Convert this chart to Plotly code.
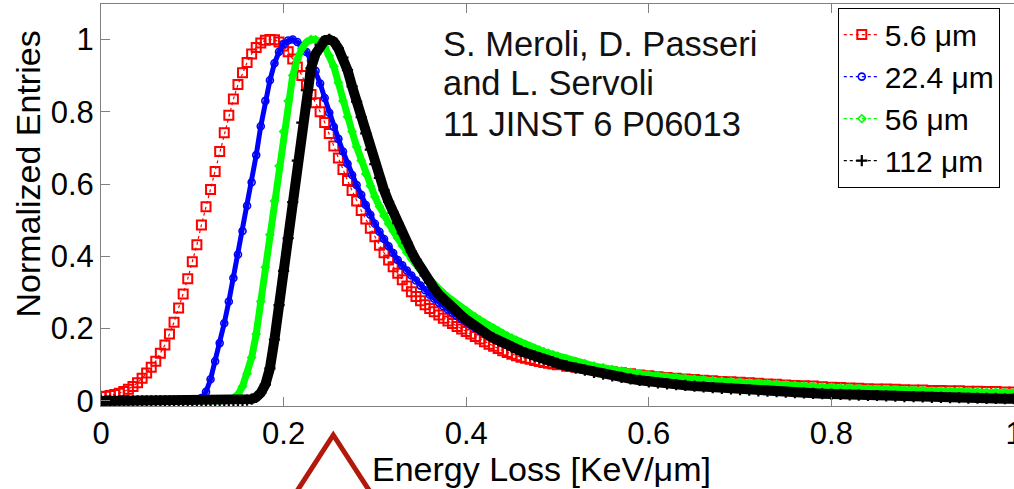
import plotly.graph_objects as go

# Energy loss grid [KeV/um]: fine sampling up to 0.5, coarser in the tail
X_FINE = [0.000, 0.005, 0.010, 0.015, 0.020, 0.025, 0.030, 0.035, 0.040, 0.045,
          0.050, 0.055, 0.060, 0.065, 0.070, 0.075, 0.080, 0.085, 0.090, 0.095,
          0.100, 0.105, 0.110, 0.115, 0.120, 0.125, 0.130, 0.135, 0.140, 0.145,
          0.150, 0.155, 0.160, 0.165, 0.170, 0.175, 0.180, 0.185, 0.190, 0.195,
          0.200, 0.205, 0.210, 0.215, 0.220, 0.225, 0.230, 0.235, 0.240, 0.245,
          0.250, 0.255, 0.260, 0.265, 0.270, 0.275, 0.280, 0.285, 0.290, 0.295,
          0.300, 0.305, 0.310, 0.315, 0.320, 0.325, 0.330, 0.335, 0.340, 0.345,
          0.350, 0.355, 0.360, 0.365, 0.370, 0.375, 0.380, 0.385, 0.390, 0.395,
          0.400, 0.405, 0.410, 0.415, 0.420, 0.425, 0.430, 0.435, 0.440, 0.445,
          0.450, 0.455, 0.460, 0.465, 0.470, 0.475, 0.480, 0.485, 0.490, 0.495,
          0.500]
X_TAIL = [0.51, 0.52, 0.53, 0.54, 0.55, 0.56, 0.57, 0.58, 0.59, 0.60,
          0.61, 0.62, 0.63, 0.64, 0.65, 0.66, 0.67, 0.68, 0.69, 0.70,
          0.71, 0.72, 0.73, 0.74, 0.75, 0.76, 0.77, 0.78, 0.79, 0.80,
          0.81, 0.82, 0.83, 0.84, 0.85, 0.86, 0.87, 0.88, 0.89, 0.90,
          0.91, 0.92, 0.93, 0.94, 0.95, 0.96, 0.97, 0.98, 0.99, 1.00]
X = X_FINE + X_TAIL

# Normalized entries per thickness
Y_5P6 = [0.012, 0.013, 0.015, 0.018, 0.021, 0.026, 0.032, 0.040, 0.050, 0.063,
         0.077, 0.093, 0.110, 0.132, 0.155, 0.185, 0.218, 0.257, 0.296, 0.338,
         0.385, 0.432, 0.487, 0.537, 0.585, 0.635, 0.690, 0.742, 0.790, 0.835,
         0.875, 0.908, 0.936, 0.960, 0.978, 0.990, 0.998, 1.000, 0.999, 0.993,
         0.982, 0.966, 0.946, 0.924, 0.900, 0.873, 0.848, 0.825, 0.800, 0.770,
         0.740, 0.705, 0.672, 0.640, 0.610, 0.582, 0.553, 0.527, 0.503, 0.478,
         0.454, 0.431, 0.410, 0.390, 0.371, 0.353, 0.335, 0.318, 0.302, 0.289,
         0.277, 0.266, 0.256, 0.247, 0.238, 0.229, 0.221, 0.214, 0.206, 0.199,
         0.192, 0.185, 0.178, 0.171, 0.164, 0.157, 0.151, 0.145, 0.139, 0.134,
         0.129, 0.125, 0.121, 0.118, 0.115, 0.112, 0.109, 0.106, 0.104, 0.102,
         0.100,
         0.096, 0.093, 0.090, 0.087, 0.084, 0.081, 0.078, 0.075, 0.072, 0.070,
         0.067, 0.065, 0.063, 0.061, 0.059, 0.057, 0.056, 0.054, 0.053, 0.052,
         0.050, 0.049, 0.047, 0.046, 0.044, 0.043, 0.042, 0.041, 0.039, 0.038,
         0.037, 0.036, 0.035, 0.034, 0.033, 0.033, 0.032, 0.031, 0.030, 0.030,
         0.029, 0.029, 0.028, 0.028, 0.027, 0.027, 0.026, 0.026, 0.025, 0.025]

Y_22P4 = [0.000, 0.000, 0.000, 0.000, 0.000, 0.000, 0.000, 0.000, 0.000, 0.000,
          0.000, 0.000, 0.000, 0.000, 0.000, 0.000, 0.000, 0.000, 0.000, 0.000,
          0.000, 0.002, 0.008, 0.025, 0.060, 0.110, 0.160, 0.215, 0.275, 0.340,
          0.405, 0.470, 0.540, 0.605, 0.680, 0.760, 0.830, 0.887, 0.934, 0.966,
          0.987, 0.997, 1.000, 0.993, 0.982, 0.965, 0.942, 0.913, 0.878, 0.838,
          0.797, 0.758, 0.725, 0.690, 0.656, 0.625, 0.597, 0.570, 0.542, 0.515,
          0.490, 0.468, 0.448, 0.428, 0.409, 0.390, 0.375, 0.361, 0.347, 0.333,
          0.319, 0.306, 0.294, 0.283, 0.272, 0.262, 0.253, 0.244, 0.235, 0.226,
          0.218, 0.210, 0.202, 0.194, 0.187, 0.180, 0.173, 0.167, 0.161, 0.155,
          0.149, 0.144, 0.139, 0.134, 0.129, 0.125, 0.121, 0.117, 0.113, 0.109,
          0.105,
          0.098, 0.092, 0.086, 0.081, 0.076, 0.071, 0.067, 0.063, 0.059, 0.056,
          0.053, 0.050, 0.048, 0.046, 0.044, 0.042, 0.040, 0.038, 0.036, 0.035,
          0.033, 0.032, 0.031, 0.029, 0.028, 0.027, 0.026, 0.025, 0.024, 0.023,
          0.022, 0.021, 0.020, 0.019, 0.019, 0.018, 0.017, 0.016, 0.016, 0.015,
          0.014, 0.014, 0.013, 0.013, 0.012, 0.012, 0.011, 0.011, 0.010, 0.010]

Y_56 = [0.000, 0.000, 0.000, 0.000, 0.000, 0.000, 0.000, 0.000, 0.000, 0.000,
        0.000, 0.000, 0.000, 0.000, 0.000, 0.000, 0.000, 0.000, 0.000, 0.000,
        0.000, 0.000, 0.000, 0.000, 0.000, 0.000, 0.000, 0.001, 0.003, 0.007,
        0.018, 0.040, 0.075, 0.120, 0.185, 0.275, 0.370, 0.460, 0.553, 0.650,
        0.745, 0.830, 0.900, 0.945, 0.975, 0.992, 1.000, 0.999, 0.993, 0.980,
        0.955, 0.925, 0.880, 0.830, 0.786, 0.745, 0.703, 0.665, 0.628, 0.595,
        0.565, 0.538, 0.512, 0.490, 0.470, 0.450, 0.430, 0.410, 0.393, 0.378,
        0.362, 0.348, 0.334, 0.321, 0.309, 0.298, 0.287, 0.277, 0.267, 0.258,
        0.249, 0.240, 0.232, 0.224, 0.216, 0.208, 0.201, 0.194, 0.187, 0.180,
        0.174, 0.168, 0.162, 0.156, 0.151, 0.146, 0.141, 0.136, 0.132, 0.128,
        0.124,
        0.116, 0.109, 0.103, 0.097, 0.092, 0.087, 0.083, 0.079, 0.075, 0.072,
        0.069, 0.066, 0.064, 0.062, 0.060, 0.058, 0.056, 0.055, 0.053, 0.052,
        0.050, 0.049, 0.047, 0.046, 0.044, 0.043, 0.041, 0.040, 0.038, 0.037,
        0.036, 0.035, 0.034, 0.033, 0.032, 0.031, 0.030, 0.029, 0.029, 0.028,
        0.027, 0.027, 0.026, 0.026, 0.025, 0.025, 0.024, 0.024, 0.023, 0.023]

Y_112 = [0.000, 0.000, 0.000, 0.000, 0.000, 0.000, 0.000, 0.000, 0.000, 0.000,
         0.000, 0.000, 0.000, 0.000, 0.000, 0.000, 0.000, 0.000, 0.000, 0.000,
         0.000, 0.000, 0.000, 0.000, 0.000, 0.000, 0.000, 0.000, 0.000, 0.000,
         0.000, 0.000, 0.002, 0.005, 0.010, 0.022, 0.045, 0.090, 0.170, 0.265,
         0.360, 0.450, 0.550, 0.665, 0.770, 0.860, 0.920, 0.960, 0.985, 0.997,
         1.000, 0.994, 0.975, 0.950, 0.915, 0.870, 0.828, 0.785, 0.740, 0.695,
         0.655, 0.617, 0.583, 0.551, 0.521, 0.492, 0.464, 0.438, 0.413, 0.390,
         0.368, 0.347, 0.328, 0.311, 0.295, 0.281, 0.268, 0.256, 0.245, 0.235,
         0.225, 0.215, 0.206, 0.197, 0.189, 0.181, 0.174, 0.167, 0.161, 0.155,
         0.149, 0.143, 0.138, 0.133, 0.128, 0.124, 0.120, 0.116, 0.112, 0.108,
         0.104,
         0.097, 0.091, 0.085, 0.079, 0.074, 0.069, 0.065, 0.061, 0.057, 0.053,
         0.050, 0.047, 0.045, 0.043, 0.041, 0.039, 0.037, 0.035, 0.033, 0.031,
         0.030, 0.028, 0.027, 0.026, 0.024, 0.023, 0.022, 0.021, 0.020, 0.019,
         0.018, 0.017, 0.016, 0.015, 0.015, 0.014, 0.013, 0.012, 0.012, 0.011,
         0.010, 0.010, 0.009, 0.009, 0.008, 0.008, 0.007, 0.007, 0.006, 0.006]

SERIES_NAMES = ["5.6 \u03bcm", "22.4 \u03bcm", "56 \u03bcm", "112 \u03bcm"]
TICK_VALS = [0, 0.2, 0.4, 0.6, 0.8, 1]
TICK_TEXT = ["0", "0.2", "0.4", "0.6", "0.8", "1"]
CITATION = ["S. Meroli, D. Passeri", "and L. Servoli", "11 JINST 6 P06013"]

FONT = "Liberation Sans, Arial, sans-serif"
AXIS_GRAY = "#808080"

fig = go.Figure()

styles = [
    # (y, name, color, symbol, size, marker line width, underlay width)
    (Y_5P6, SERIES_NAMES[0], "#ff0000", "square-open", 9, 2, 0),
    (Y_22P4, SERIES_NAMES[1], "#0000ff", "circle-open", 7, 1.6, 5),
    (Y_56, SERIES_NAMES[2], "#00ff00", "diamond-open", 6, 1.5, 7),
    (Y_112, SERIES_NAMES[3], "#000000", "cross-thin", 8, 2.2, 10),
]

for y, name, color, symbol, size, mlw, under in styles:
    if under:
        fig.add_trace(go.Scatter(
            x=X, y=y, mode="lines", showlegend=False, hoverinfo="skip",
            line=dict(color=color, width=under)))
    fig.add_trace(go.Scatter(
        x=X, y=y, mode="lines+markers", name=name,
        line=dict(color=color, width=1.2, dash="dot"),
        marker=dict(symbol=symbol, size=size, color=color,
                    line=dict(color=color, width=mlw))))

axis_common = dict(
    showgrid=False, zeroline=False, showline=True, linecolor=AXIS_GRAY,
    linewidth=1, ticks="inside", ticklen=9, tickwidth=1, tickcolor=AXIS_GRAY,
    tickfont=dict(family=FONT, size=31, color="black"),
    tickvals=TICK_VALS, ticktext=TICK_TEXT, automargin=False,
    ticklabeloverflow="allow",
)

fig.update_xaxes(range=[0, 1], mirror="ticks", **axis_common)
fig.update_yaxes(range=[-0.014, 1.098], **axis_common)

annotations = [
    dict(text="Normalized Entries", xref="paper", yref="paper",
         x=-0.0794, y=0.577, textangle=-90, showarrow=False,
         xanchor="center", yanchor="middle",
         font=dict(family=FONT, size=34, color="black")),
    dict(text="Energy Loss [KeV/\u03bcm]", xref="paper", yref="paper",
         x=0.4825, y=-0.1567, showarrow=False,
         xanchor="center", yanchor="middle",
         font=dict(family=FONT, size=34, color="black")),
]
for line, yp in zip(CITATION, [0.9017, 0.8035, 0.7015]):
    annotations.append(dict(
        text=line, xref="paper", yref="paper", x=0.3724, y=yp,
        showarrow=False, xanchor="left", yanchor="middle",
        font=dict(family=FONT, size=34.5, color="#111111")))

fig.update_layout(
    width=1014, height=489,
    margin=dict(l=101, r=0, t=4, b=83),
    paper_bgcolor="white", plot_bgcolor="white",
    showlegend=True,
    legend=dict(x=0.807, y=0.991, xanchor="left", yanchor="top",
                bgcolor="white", bordercolor="black", borderwidth=1,
                font=dict(family=FONT, size=30, color="black"),
                tracegroupgap=0, itemwidth=36),
    annotations=annotations,
    shapes=[dict(type="path", xref="paper", yref="paper",
                 path="M 0.2123,-0.22 L 0.2544,-0.0721 L 0.2966,-0.22",
                 line=dict(color="#b2190b", width=5))],
)

# Remove the browser's default 8px body margin so the figure fills the window
fig.write_html("out.html",
               config={"displayModeBar": False},
               post_script="document.body.style.margin='0px';")
